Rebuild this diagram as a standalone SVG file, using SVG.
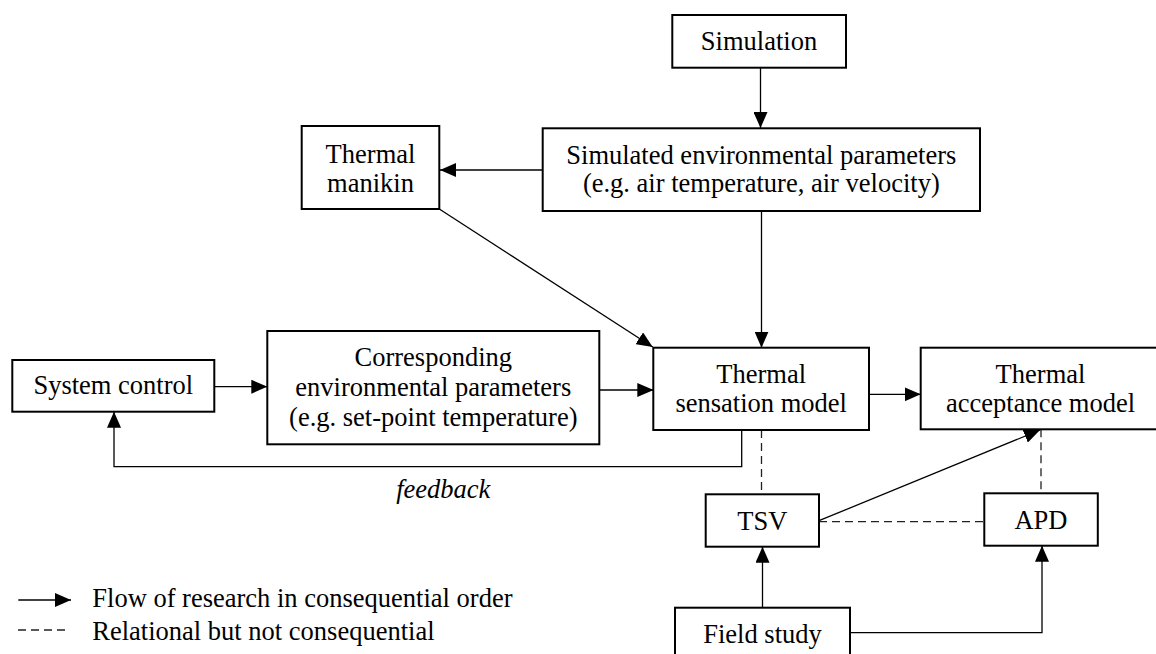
<svg xmlns="http://www.w3.org/2000/svg" width="1156" height="654" viewBox="0 0 1156 654">
  <style>
    .box { fill: #fff; stroke: #000; stroke-width: 2; }
    .lbl { font-family: "Liberation Serif", "Times New Roman", serif; font-size: 26.5px; fill: #000; text-anchor: middle; }
    .lbl-l { font-family: "Liberation Serif", "Times New Roman", serif; font-size: 26.5px; fill: #000; }
    .flow { fill: none; stroke: #000; stroke-width: 1.3; }
    .rel { fill: none; stroke: #222; stroke-width: 1.3; stroke-dasharray: 8 5; }
  </style>
  <defs>
    <marker id="head" markerUnits="userSpaceOnUse" viewBox="0 0 16 14" refX="16" refY="7" markerWidth="16" markerHeight="14" orient="auto">
      <path d="M0,0 L16,7 L0,14 z" fill="#000"/>
    </marker>
  </defs>

  <rect width="1156" height="654" fill="#fff"/>

  <!-- connectors -->
  <g id="connectors">
    <line class="flow" x1="760.5" y1="67.7" x2="760.5" y2="128" marker-end="url(#head)"/>
    <line class="flow" x1="542.7" y1="170" x2="440" y2="170" marker-end="url(#head)"/>
    <line class="flow" x1="439.3" y1="209" x2="652.7" y2="347" marker-end="url(#head)"/>
    <line class="flow" x1="761.5" y1="211" x2="761.5" y2="347.7" marker-end="url(#head)"/>
    <line class="flow" x1="214.3" y1="386.7" x2="267.3" y2="386.7" marker-end="url(#head)"/>
    <line class="flow" x1="599.3" y1="390" x2="653.3" y2="390" marker-end="url(#head)"/>
    <line class="flow" x1="869" y1="394.3" x2="920.7" y2="394.3" marker-end="url(#head)"/>
    <polyline class="flow" points="741.7,430 741.7,466.7 114,466.7 114,411.7" marker-end="url(#head)"/>
    <line class="flow" x1="819" y1="520.7" x2="1040" y2="430" marker-end="url(#head)"/>
    <line class="flow" x1="762.5" y1="607.7" x2="762.5" y2="546.7" marker-end="url(#head)"/>
    <polyline class="flow" points="850,632.7 1042,632.7 1042,545.7" marker-end="url(#head)"/>
    <line class="rel" x1="761.5" y1="430" x2="761.5" y2="494.3"/>
    <line class="rel" x1="1041" y1="429.3" x2="1041" y2="493.3"/>
    <line class="rel" x1="819" y1="521.7" x2="984.3" y2="521.7"/>
  </g>

  <!-- nodes -->
  <g id="simulation">
    <rect class="box" x="672.3" y="15" width="173.7" height="52.7"/>
    <text class="lbl" x="759" y="50">Simulation</text>
  </g>
  <g id="simulated-parameters">
    <rect class="box" x="542.7" y="128.3" width="437.3" height="82.7"/>
    <text class="lbl" x="761.3" y="164">Simulated environmental parameters</text>
    <text class="lbl" x="761.3" y="192">(e.g. air temperature, air velocity)</text>
  </g>
  <g id="thermal-manikin">
    <rect class="box" x="301.7" y="126" width="137.6" height="83"/>
    <text class="lbl" x="370.5" y="163">Thermal</text>
    <text class="lbl" x="370.5" y="192">manikin</text>
  </g>
  <g id="system-control">
    <rect class="box" x="12.3" y="360" width="202" height="51.7"/>
    <text class="lbl" x="113.3" y="394">System control</text>
  </g>
  <g id="corresponding-parameters">
    <rect class="box" x="267.3" y="331" width="332" height="113.3"/>
    <text class="lbl" x="433.3" y="366">Corresponding</text>
    <text class="lbl" x="433.3" y="396">environmental parameters</text>
    <text class="lbl" x="433.3" y="426">(e.g. set-point temperature)</text>
  </g>
  <g id="sensation-model">
    <rect class="box" x="653.3" y="347.7" width="215.7" height="82.3"/>
    <text class="lbl" x="761.2" y="383.3">Thermal</text>
    <text class="lbl" x="761.2" y="412.3">sensation model</text>
  </g>
  <g id="acceptance-model">
    <rect class="box" x="920.7" y="347.7" width="239.6" height="81.6"/>
    <text class="lbl" x="1040.5" y="383.3">Thermal</text>
    <text class="lbl" x="1040.5" y="411.7">acceptance model</text>
  </g>
  <g id="tsv">
    <rect class="box" x="705.7" y="494.3" width="113.3" height="52.4"/>
    <text class="lbl" x="762.3" y="529.5">TSV</text>
  </g>
  <g id="apd">
    <rect class="box" x="984.3" y="493.3" width="113.5" height="52.4"/>
    <text class="lbl" x="1041" y="529">APD</text>
  </g>
  <g id="field-study">
    <rect class="box" x="675" y="607.7" width="175" height="52.5"/>
    <text class="lbl" x="762.5" y="643">Field study</text>
  </g>

  <!-- annotation and legend -->
  <text class="lbl" x="443.3" y="498.3" font-style="italic">feedback</text>
  <g id="legend">
    <line class="flow" x1="18.3" y1="600" x2="71" y2="600" marker-end="url(#head)"/>
    <text class="lbl-l" x="92.3" y="606.7">Flow of research in consequential order</text>
    <line class="rel" x1="18" y1="630" x2="70" y2="630"/>
    <text class="lbl-l" x="92.3" y="640">Relational but not consequential</text>
  </g>
</svg>
